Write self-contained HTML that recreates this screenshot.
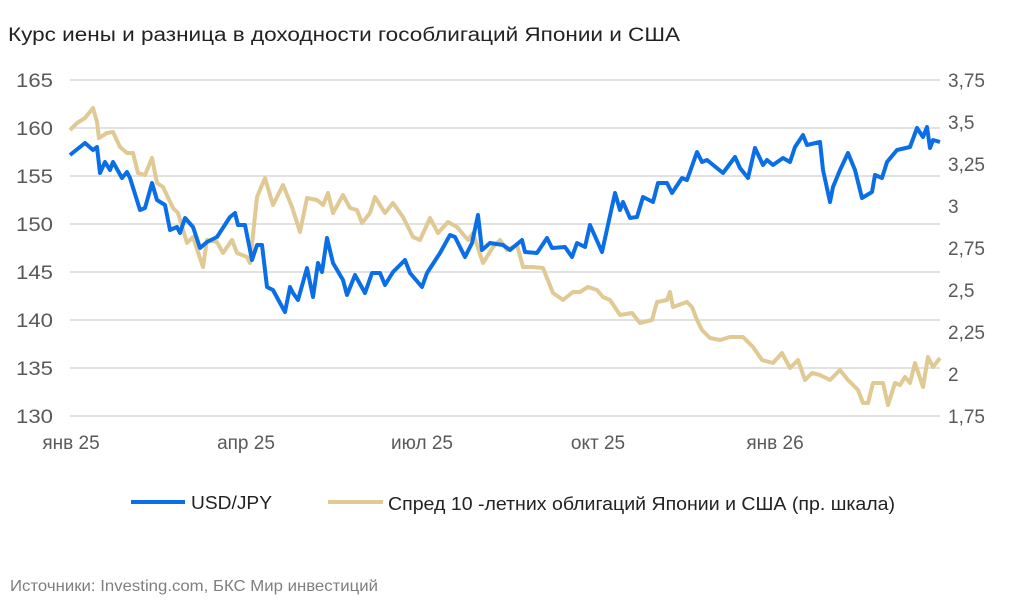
<!DOCTYPE html>
<html><head><meta charset="utf-8"><style>
body{margin:0;background:#fff;}
svg{display:block;font-family:"Liberation Sans",Arial,sans-serif;}
</style></head><body>
<svg width="1024" height="613" viewBox="0 0 1024 613">
<rect width="1024" height="613" fill="#fff"/>
<text x="8" y="41" font-size="19" fill="#222" textLength="672" lengthAdjust="spacingAndGlyphs">Курс иены и разница в доходности гособлигаций Японии и США</text>
<g stroke="#d9d9d9" stroke-width="1.5">
<line x1="70" x2="940" y1="80" y2="80"/><line x1="70" x2="940" y1="128" y2="128"/>
<line x1="70" x2="940" y1="176" y2="176"/><line x1="70" x2="940" y1="224" y2="224"/>
<line x1="70" x2="940" y1="272" y2="272"/><line x1="70" x2="940" y1="320" y2="320"/>
<line x1="70" x2="940" y1="368" y2="368"/><line x1="70" x2="940" y1="416" y2="416"/>
</g>
<g font-size="19" fill="#595959" text-anchor="end">
<text x="53" y="87" textLength="37" lengthAdjust="spacingAndGlyphs">165</text>
<text x="53" y="135" textLength="37" lengthAdjust="spacingAndGlyphs">160</text>
<text x="53" y="183" textLength="37" lengthAdjust="spacingAndGlyphs">155</text>
<text x="53" y="231" textLength="37" lengthAdjust="spacingAndGlyphs">150</text>
<text x="53" y="279" textLength="37" lengthAdjust="spacingAndGlyphs">145</text>
<text x="53" y="327" textLength="37" lengthAdjust="spacingAndGlyphs">140</text>
<text x="53" y="375" textLength="37" lengthAdjust="spacingAndGlyphs">135</text>
<text x="53" y="423" textLength="37" lengthAdjust="spacingAndGlyphs">130</text>
</g>
<g font-size="19" fill="#595959" text-anchor="start">
<text x="948" y="87">3,75</text><text x="948" y="129">3,5</text><text x="948" y="171">3,25</text>
<text x="948" y="213">3</text><text x="948" y="255">2,75</text><text x="948" y="297">2,5</text>
<text x="948" y="339">2,25</text><text x="948" y="381">2</text><text x="948" y="423">1,75</text>
</g>
<g font-size="19" fill="#595959" text-anchor="middle">
<text x="71" y="449">янв 25</text><text x="246" y="449">апр 25</text><text x="422" y="449">июл 25</text>
<text x="598" y="449">окт 25</text><text x="775" y="449">янв 26</text>
</g>
<polyline fill="none" stroke="#e0c993" stroke-width="4" stroke-linejoin="round" points="70,130 77,123 85,118 93,108 97,122 99,138 107,133 113,132 120,147 127,153 133,153 138,173 145,175 152,158 157,183 163,187 173,208 178,213 187,243 193,237 203,267 207,240 217,242 223,253 232,240 237,253 247,257 250,263 257,197 265,178 273,205 283,185 292,207 300,232 307,198 317,200 323,205 328,193 333,213 343,195 350,208 357,210 362,223 370,213 375,197 385,213 393,203 403,217 413,237 420,240 430,218 438,233 448,222 457,227 468,240 473,233 483,263 493,247 500,240 507,250 517,245 523,267 533,267 543,268 553,293 563,300 573,292 580,292 588,287 597,290 603,297 610,300 620,315 632,313 640,323 652,320 657,302 667,300 670,292 673,307 687,302 692,307 697,320 702,330 710,338 720,340 730,337 743,337 753,347 762,360 773,363 782,353 790,368 798,360 805,380 812,373 820,375 830,380 840,370 848,380 858,390 863,403 868,403 873,383 883,383 888,405 895,383 900,385 905,377 910,383 915,363 923,387 928,357 933,367 940,358"/>
<polyline fill="none" stroke="#0a6ee6" stroke-width="4" stroke-linejoin="round" points="70,155 85,143 93,150 97,147 100,173 105,162 110,170 113,162 122,178 127,172 130,178 140,210 145,208 152,183 157,200 165,205 170,230 177,227 180,233 185,218 193,227 200,248 207,242 217,237 230,217 235,213 238,225 245,225 252,260 257,245 262,245 267,287 273,290 280,303 285,312 290,287 293,293 298,300 307,268 313,297 318,263 322,272 327,238 333,263 343,280 347,295 355,275 365,293 372,273 380,273 385,285 393,272 405,260 410,273 422,287 427,273 440,253 450,235 455,237 465,257 472,243 478,215 482,250 490,243 503,245 510,250 522,240 525,252 537,253 547,238 552,248 565,247 572,257 577,243 585,247 590,225 602,252 615,193 620,210 623,202 630,218 637,217 643,197 653,202 658,183 667,183 672,193 682,178 687,180 697,152 702,162 707,160 723,173 735,157 740,168 748,178 755,148 763,165 767,160 773,165 783,158 790,162 795,147 803,135 807,145 820,142 823,170 830,202 833,187 840,170 848,153 855,170 862,198 872,192 875,175 882,178 887,162 897,150 910,147 917,128 923,137 927,127 930,148 933,140 940,142"/>
<line x1="131" x2="185" y1="502" y2="502" stroke="#0a6ee6" stroke-width="4"/>
<text x="191" y="509" font-size="18" fill="#222" textLength="81" lengthAdjust="spacingAndGlyphs">USD/JPY</text>
<line x1="328" x2="383" y1="502" y2="502" stroke="#e0c993" stroke-width="4"/>
<text x="388" y="510" font-size="18" fill="#222" textLength="507" lengthAdjust="spacingAndGlyphs">Спред 10 -летних облигаций Японии и США (пр. шкала)</text>
<text x="10" y="591" font-size="16" fill="#7f7f7f" textLength="368" lengthAdjust="spacingAndGlyphs">Источники: Investing.com, БКС Мир инвестиций</text>
</svg>
</body></html>
